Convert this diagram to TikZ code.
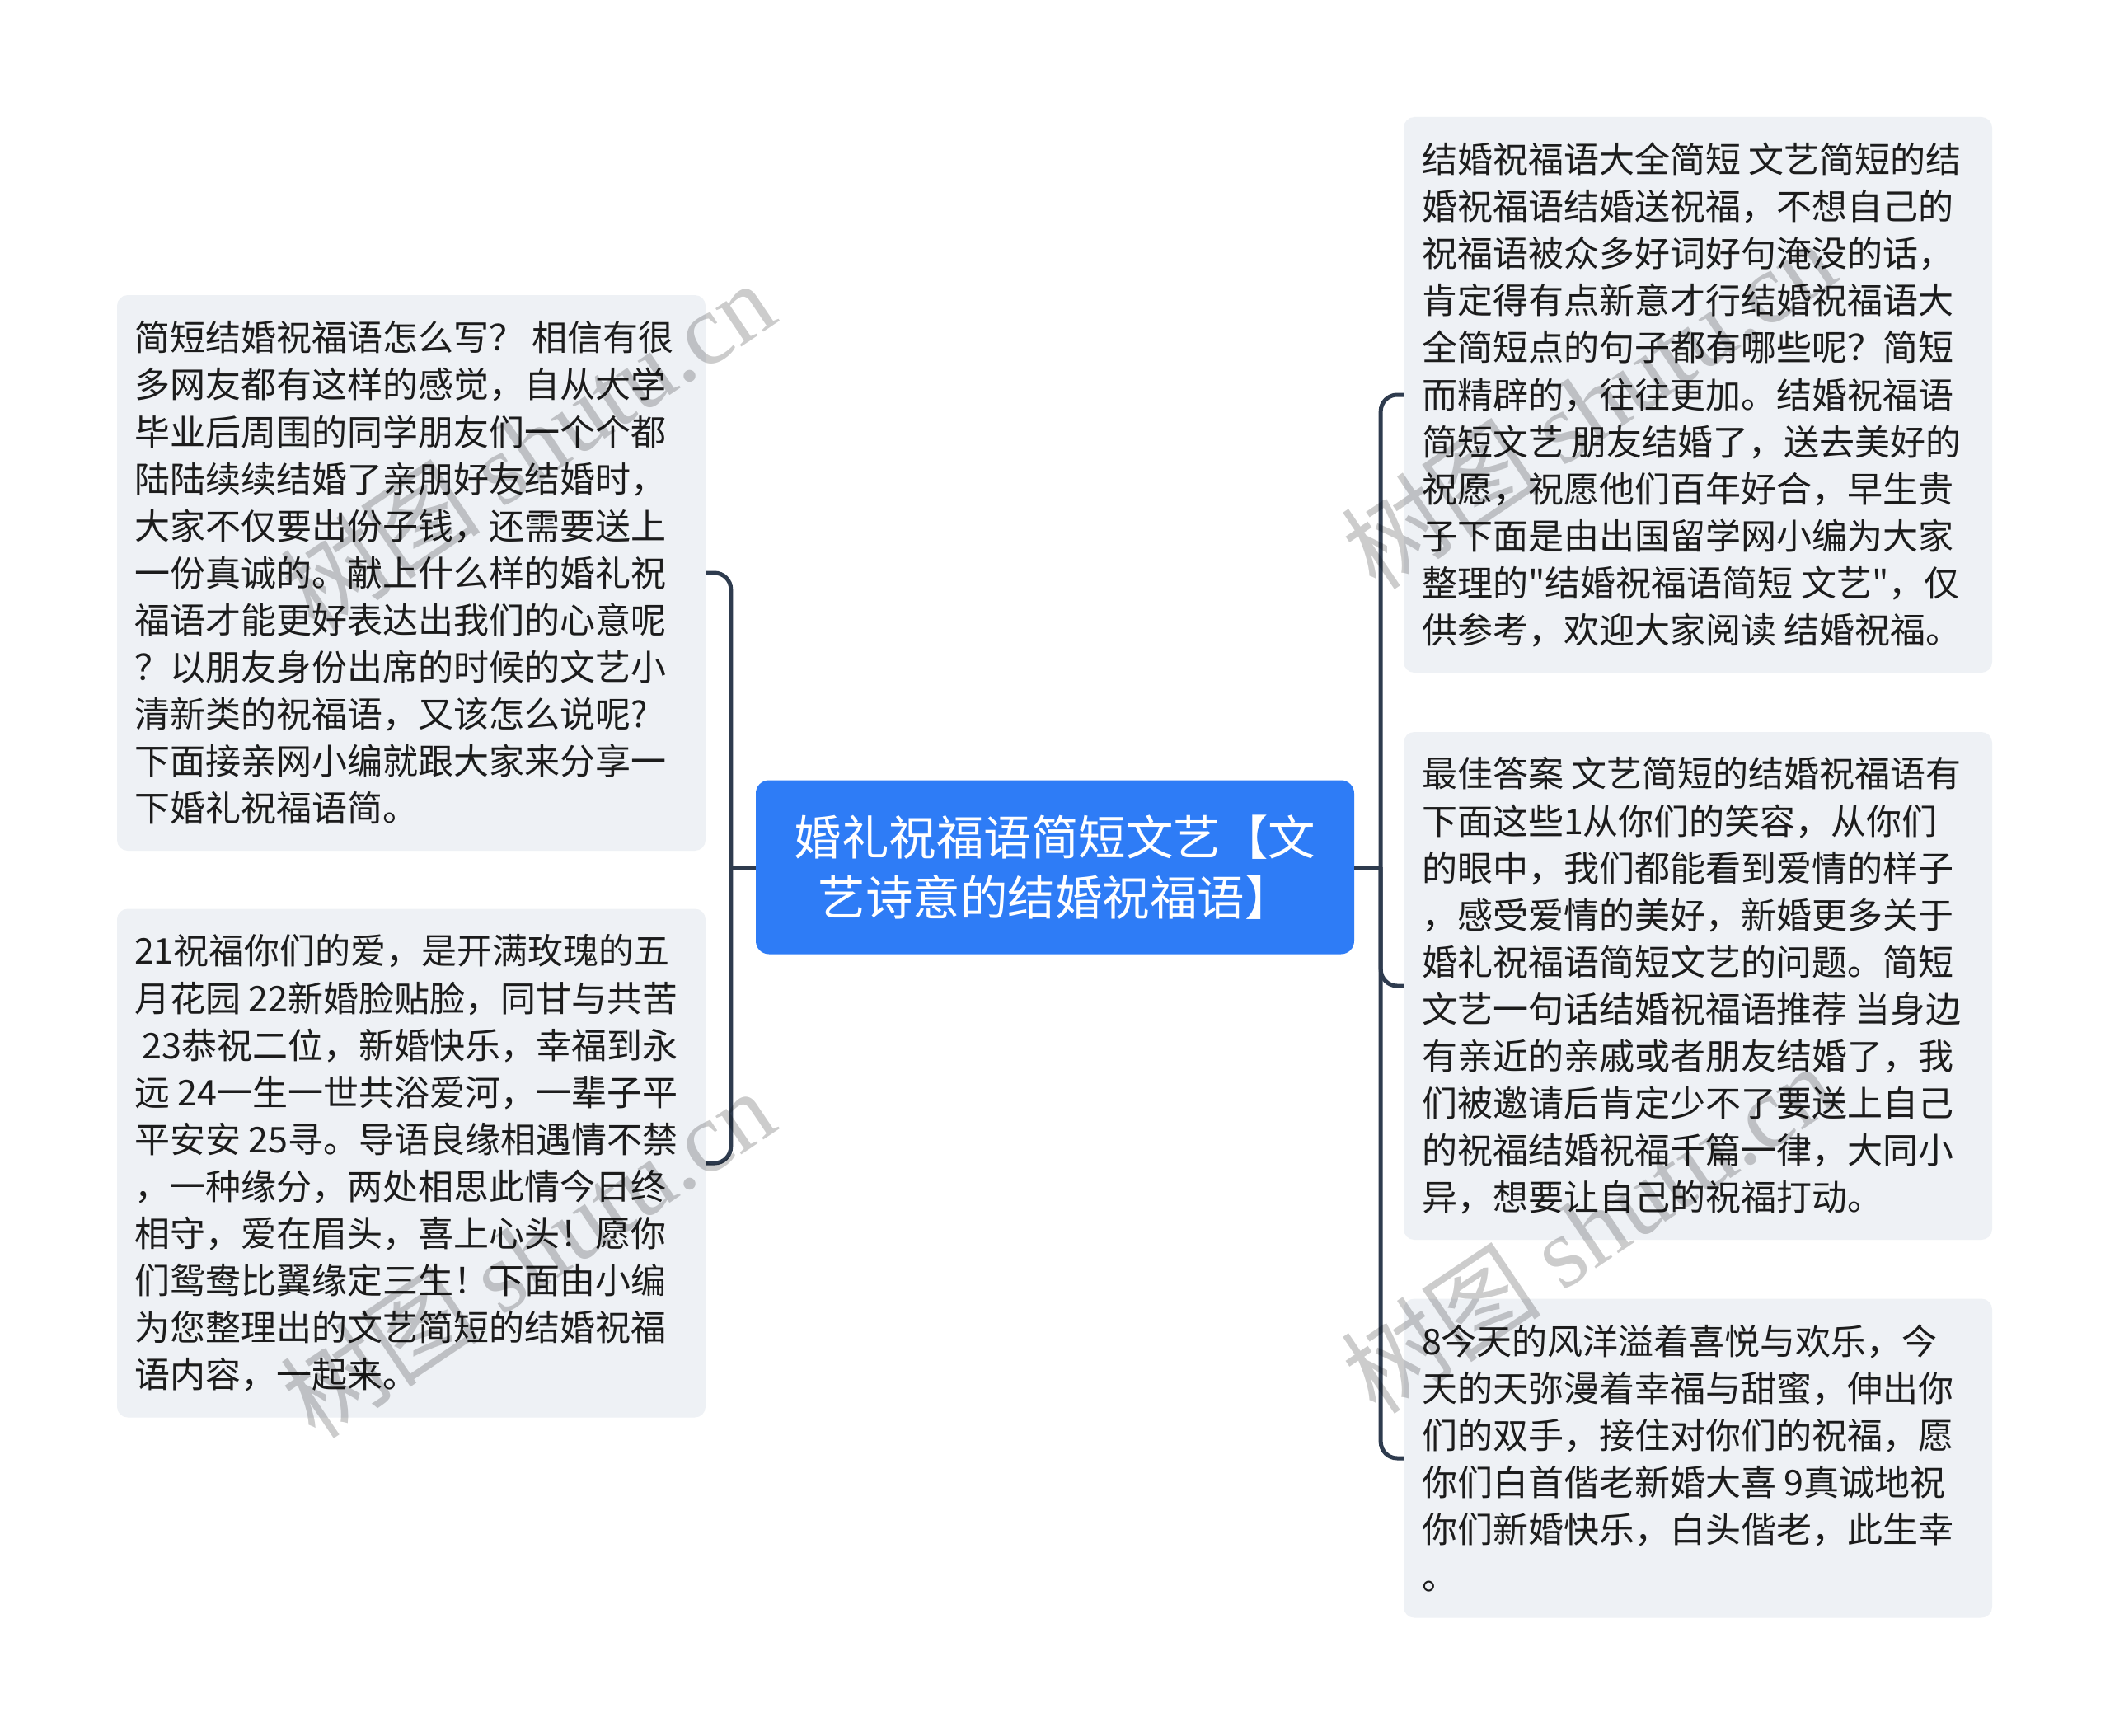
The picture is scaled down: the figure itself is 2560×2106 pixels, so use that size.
\documentclass[tikz,border=0pt]{standalone}
\usepackage{fontspec}
\newfontfamily\cjk{Noto Sans CJK SC}
\newfontfamily\wmfont{Liberation Serif}
\definecolor{boxfill}{HTML}{EEF1F5}
\definecolor{mainblue}{HTML}{2E7CF6}
\definecolor{conncol}{HTML}{2E3B4E}
\definecolor{txtcol}{HTML}{1C1C1C}
\begin{document}
\begin{tikzpicture}[x=1pt,y=-1pt,
  leaf/.style={fill=boxfill, rounded corners=13pt, draw=none, inner sep=0pt},
  leaftext/.style={anchor=west, align=left, inner sep=0pt, text=txtcol, font=\cjk\fontsize{43}{57.1}\selectfont},
  rootbox/.style={fill=mainblue, rounded corners=16pt, draw=none, inner sep=0pt, text=white, align=center, font=\cjk\fontsize{57.5}{73.5}\selectfont},
  connline/.style={draw=conncol, line width=5pt, rounded corners=20pt},
  wmark/.style={text=black, text opacity=0.2, inner sep=0pt, rotate=34, font=\cjk\fontsize{122}{122}\selectfont}]
\fill[white] (0,0) rectangle (2560,2106);
\path[use as bounding box] (0,0) rectangle (2560,2106);

% central node
\node[rootbox, minimum width=726pt, minimum height=211pt] (c) at (1280,1052) {婚礼祝福语简短文艺【文\\艺诗意的结婚祝福语】};

% left boxes
\node[leaf, minimum width=714pt, minimum height=674pt] (l1) at (499,695) {};
\node[leaftext] (l1t) at ([xshift=21pt]l1.west) {简短结婚祝福语怎么写？ 相信有很\\
多网友都有这样的感觉，自从大学\\
毕业后周围的同学朋友们一个个都\\
陆陆续续结婚了亲朋好友结婚时，\\
大家不仅要出份子钱，还需要送上\\
一份真诚的。献上什么样的婚礼祝\\
福语才能更好表达出我们的心意呢\\
？以朋友身份出席的时候的文艺小\\
清新类的祝福语，又该怎么说呢?\\
下面接亲网小编就跟大家来分享一\\
下婚礼祝福语简。};

\node[leaf, minimum width=714pt, minimum height=617pt] (l2) at (499,1411) {};
\node[leaftext] (l2t) at ([xshift=21pt]l2.west) {21祝福你们的爱，是开满玫瑰的五\\
月花园 22新婚脸贴脸，同甘与共苦\\
\ 23恭祝二位，新婚快乐，幸福到永\\
远 24一生一世共浴爱河，一辈子平\\
平安安 25寻。导语良缘相遇情不禁\\
，一种缘分，两处相思此情今日终\\
相守，爱在眉头，喜上心头！愿你\\
们鸳鸯比翼缘定三生！下面由小编\\
为您整理出的文艺简短的结婚祝福\\
语内容，一起来。};

% right boxes
\node[leaf, minimum width=714pt, minimum height=674pt] (r1) at (2060,479) {};
\node[leaftext] (r1t) at ([xshift=22pt]r1.west) {结婚祝福语大全简短 文艺简短的结\\
婚祝福语结婚送祝福，不想自己的\\
祝福语被众多好词好句淹没的话，\\
肯定得有点新意才行结婚祝福语大\\
全简短点的句子都有哪些呢？简短\\
而精辟的，往往更加。结婚祝福语\\
简短文艺 朋友结婚了，送去美好的\\
祝愿，祝愿他们百年好合，早生贵\\
子下面是由出国留学网小编为大家\\
整理的"结婚祝福语简短 文艺"，仅\\
供参考，欢迎大家阅读 结婚祝福。};

\node[leaf, minimum width=714pt, minimum height=616pt] (r2) at (2060,1196) {};
\node[leaftext] (r2t) at ([xshift=22pt]r2.west) {最佳答案 文艺简短的结婚祝福语有\\
下面这些1从你们的笑容，从你们\\
的眼中，我们都能看到爱情的样子\\
，感受爱情的美好，新婚更多关于\\
婚礼祝福语简短文艺的问题。简短\\
文艺一句话结婚祝福语推荐 当身边\\
有亲近的亲戚或者朋友结婚了，我\\
们被邀请后肯定少不了要送上自己\\
的祝福结婚祝福千篇一律，大同小\\
异，想要让自己的祝福打动。};

\node[leaf, minimum width=714pt, minimum height=387pt] (r3) at (2060,1769) {};
\node[leaftext] (r3t) at ([xshift=22pt]r3.west) {8今天的风洋溢着喜悦与欢乐，今\\
天的天弥漫着幸福与甜蜜，伸出你\\
们的双手，接住对你们的祝福，愿\\
你们白首偕老新婚大喜 9真诚地祝\\
你们新婚快乐，白头偕老，此生幸\\
。};

% connectors
\coordinate (lj) at ([xshift=-30pt]c.west);
\coordinate (rj) at ([xshift=32pt]c.east);
\draw[connline] (c.west) -- (lj);
\draw[connline] (lj) |- (l1.east);
\draw[connline] (lj) |- (l2.east);
\draw[connline] (c.east) -- (rj);
\draw[connline] (rj) |- (r1.west);
\draw[connline] (rj) |- (r2.west);
\draw[connline] (rj) |- (r3.west);

% watermarks
\node[wmark] (w1) at (640,540) {树图 {\wmfont shutu.cn}};
\node[wmark] (w2) at (640,1520) {树图 {\wmfont shutu.cn}};
\node[wmark] (w3) at (1927,490) {树图 {\wmfont shutu.cn}};
\node[wmark] (w4) at (1927,1490) {树图 {\wmfont shutu.cn}};
\end{tikzpicture}
\end{document}
